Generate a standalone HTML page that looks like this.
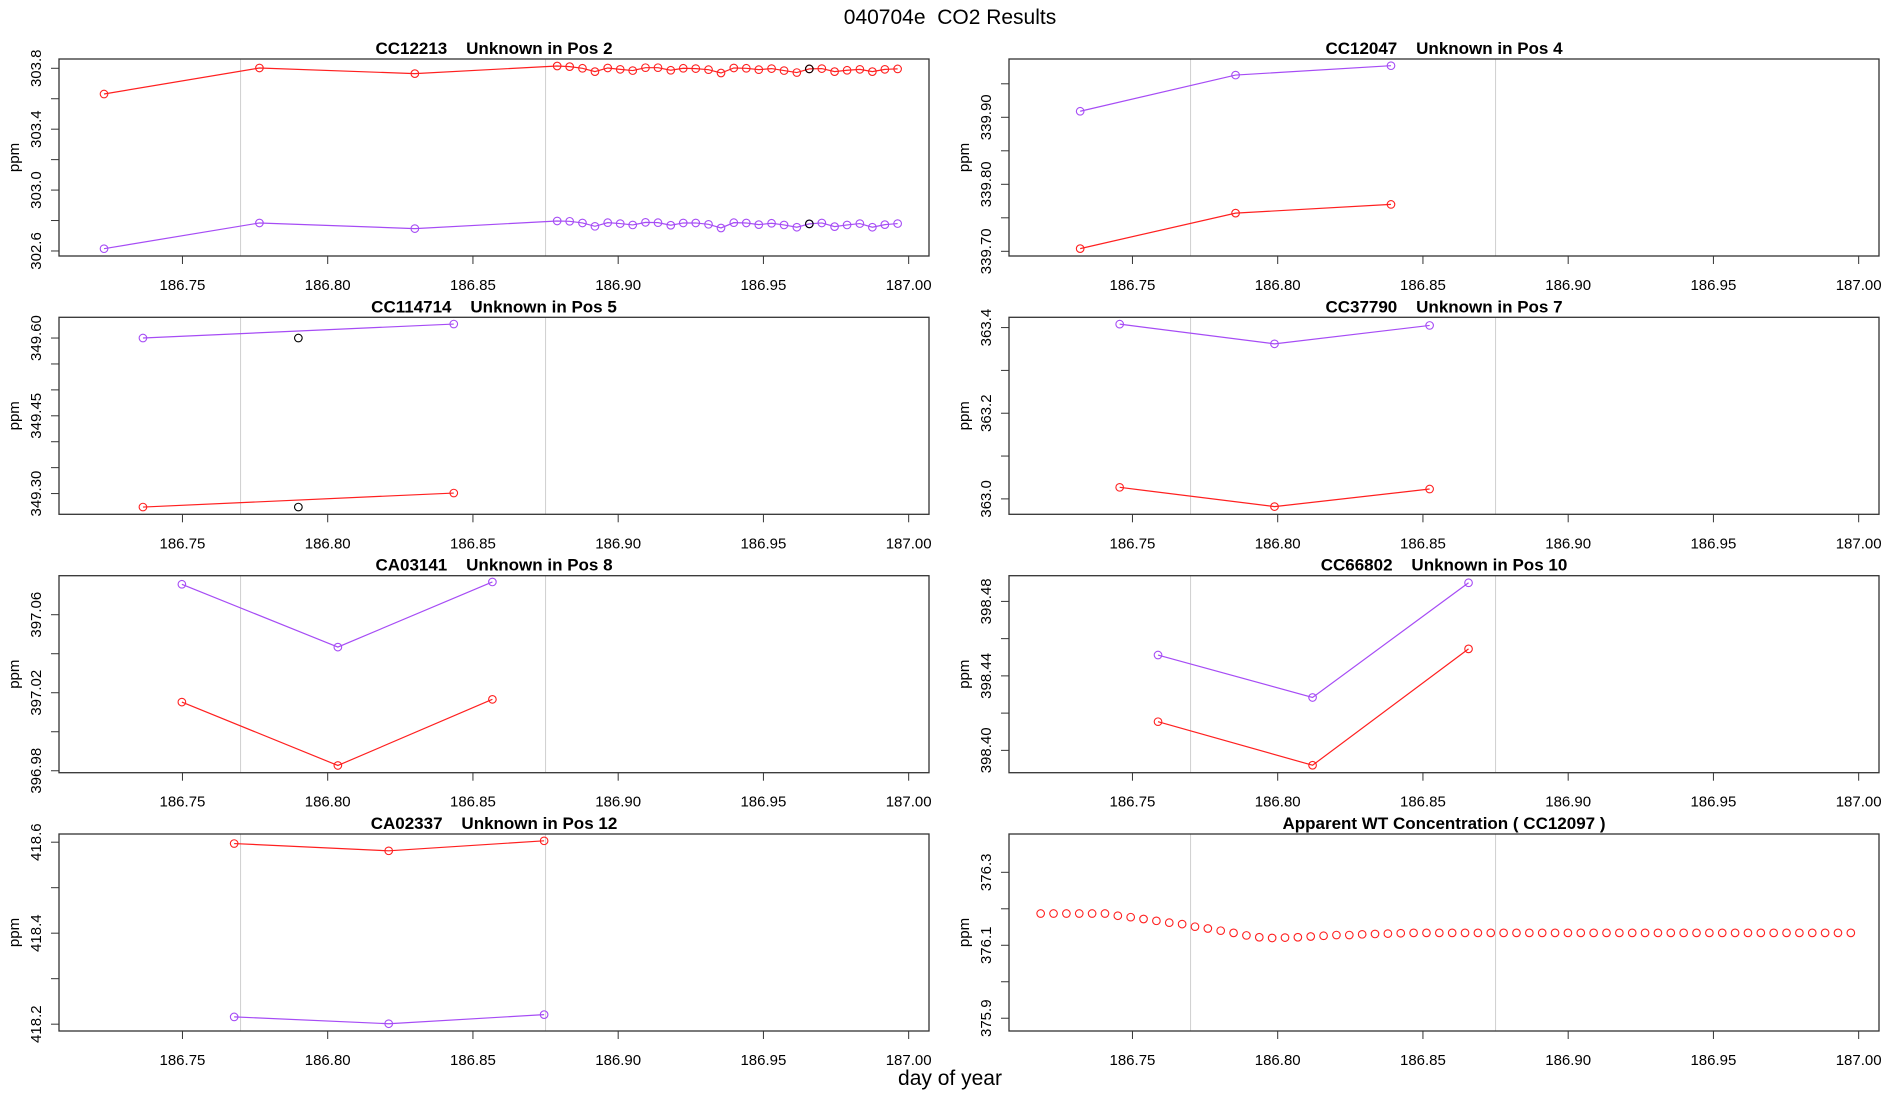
<!DOCTYPE html>
<html><head><meta charset="utf-8"><style>
body{margin:0;background:#fff;}
svg{display:block;font-family:"Liberation Sans",sans-serif;}
svg text{white-space:pre;}
</style></head><body>
<svg id="chart" width="1900" height="1100" viewBox="0 0 1900 1100" xml:space="preserve">
<text x="950" y="24" text-anchor="middle" font-size="21">040704e  CO2 Results</text>
<text x="950" y="1085" text-anchor="middle" font-size="21">day of year</text>
</svg>
<script>
// x ticks shared
const xTicks = [186.75, 186.80, 186.85, 186.90, 186.95, 187.00];
const xTickLabels = ["186.75","186.80","186.85","186.90","186.95","187.00"];
const vLines = [186.77, 186.875];

// Panel 1
const p1Title = "CC12213    Unknown in Pos 2";
const p1X = [186.723,186.7765,186.830,186.879,186.8833,186.8877,186.8920,186.8964,186.9007,186.9050,186.9094,186.9137,186.9181,186.9224,186.9267,186.9311,186.9354,186.9398,186.9441,186.9484,186.9528,186.9571,186.9615,186.9658,186.9701,186.9745,186.9788,186.9832,186.9875,186.9918,186.9962];
const p1Red = [303.631,303.802,303.765,303.815,303.811,303.800,303.778,303.802,303.793,303.785,303.804,303.804,303.787,303.800,303.798,303.791,303.769,303.802,303.800,303.791,303.798,303.785,303.772,303.796,303.798,303.778,303.787,303.793,303.778,303.793,303.796];
const p1Purple = [302.615,302.784,302.747,302.797,302.795,302.784,302.762,302.786,302.780,302.771,302.788,302.786,302.769,302.784,302.784,302.775,302.751,302.786,302.784,302.773,302.782,302.771,302.756,302.778,302.784,302.760,302.771,302.780,302.756,302.773,302.780];
const p1BlackX = [186.9658, 186.9658];
const p1BlackY = [303.796, 302.778];
const p1Ylim = [302.567, 303.861];
const p1Ticks = [302.6,302.8,303.0,303.2,303.4,303.6,303.8];
const p1Labels = ["302.6","","303.0","","303.4","","303.8"];

// Panel 2
const p2Title = "CC12047    Unknown in Pos 4";
const p2X = [186.732,186.7855,186.839];
const p2Red = [339.704,339.757,339.770];
const p2Purple = [339.909,339.963,339.977];
const p2Ylim = [339.693, 339.987];
const p2Ticks = [339.70,339.75,339.80,339.85,339.90,339.95];
const p2Labels = ["339.70","","339.80","","339.90",""];

// Panel 3
const p3Title = "CC114714    Unknown in Pos 5";
const p3X = [186.7364,186.8434];
const p3Red = [349.274,349.301];
const p3Purple = [349.600,349.627];
const p3BlackX = [186.7899,186.7899];
const p3BlackY = [349.600,349.274];
const p3Ylim = [349.260, 349.640];
const p3Ticks = [349.30,349.35,349.40,349.45,349.50,349.55,349.60];
const p3Labels = ["349.30","","","349.45","","","349.60"];

// Panel 4
const p4Title = "CC37790    Unknown in Pos 7";
const p4X = [186.7456,186.7989,186.8523];
const p4Red = [363.027,362.982,363.023];
const p4Purple = [363.408,363.362,363.405];
const p4Ylim = [362.964, 363.424];
const p4Ticks = [363.0,363.1,363.2,363.3,363.4];
const p4Labels = ["363.0","","363.2","","363.4"];

// Panel 5
const p5Title = "CA03141    Unknown in Pos 8";
const p5X = [186.7498,186.8035,186.8567];
const p5Red = [397.0152,396.9827,397.0166];
const p5Purple = [397.0756,397.0434,397.0768];
const p5Ylim = [396.979, 397.080];
const p5Ticks = [396.98,397.00,397.02,397.04,397.06];
const p5Labels = ["396.98","","397.02","","397.06"];

// Panel 6
const p6Title = "CC66802    Unknown in Pos 10";
const p6X = [186.7588,186.8120,186.8657];
const p6Red = [398.4154,398.392,398.4545];
const p6Purple = [398.4512,398.4284,398.490];
const p6Ylim = [398.388, 398.4938];
const p6Ticks = [398.40,398.42,398.44,398.46,398.48];
const p6Labels = ["398.40","","398.44","","398.48"];

// Panel 7
const p7Title = "CA02337    Unknown in Pos 12";
const p7X = [186.7678,186.821,186.8745];
const p7Red = [418.597,418.581,418.603];
const p7Purple = [418.216,418.201,418.221];
const p7Ylim = [418.185, 418.618];
const p7Ticks = [418.2,418.3,418.4,418.5,418.6];
const p7Labels = ["418.2","","418.4","","418.6"];

// Panel 8
const p8Title = "Apparent WT Concentration ( CC12097 )";
const p8Start = 186.7184;
const p8Step = 0.004427;
const p8Red = [376.187,376.187,376.187,376.187,376.187,376.187,376.181,376.177,376.172,376.167,376.162,376.158,376.151,376.146,376.140,376.134,376.127,376.122,376.120,376.121,376.122,376.124,376.126,376.128,376.128,376.130,376.131,376.132,376.133,376.134,376.134,376.134,376.134,376.134,376.134,376.134,376.134,376.134,376.134,376.134,376.134,376.134,376.134,376.134,376.134,376.134,376.134,376.134,376.134,376.134,376.134,376.134,376.134,376.134,376.134,376.134,376.134,376.134,376.134,376.134,376.134,376.134,376.134,376.134];
const p8Ylim = [375.865, 376.405];
const p8Ticks = [375.9,376.0,376.1,376.2,376.3];
const p8Labels = ["375.9","","376.1","","376.3"];

const NS = "http://www.w3.org/2000/svg";
const svg = document.getElementById('chart');
const XMIN = 186.7075, XMAX = 187.007;
const RED = "#ff2020", PURPLE = "#a64cf5";
function mk(tag, attrs, parent){
  const e = document.createElementNS(NS, tag);
  for (const k in attrs) e.setAttribute(k, attrs[k]);
  (parent||svg).appendChild(e);
  return e;
}

function panel(idx, left, top, title, ylim, ticks, labels, series, blacks){
  const W = 870, H = 197;
  const xs = v => left + (v - XMIN) / (XMAX - XMIN) * W;
  const ys = v => top + H - (v - ylim[0]) / (ylim[1] - ylim[0]) * H;
  const g = mk('g', {});
  
  
  const t = mk('text', {x: left + W/2, y: top - 5, 'text-anchor': 'middle', 'font-size': 17, 'font-weight': 'bold'}, g);
  t.textContent = title;
  
  
  vLines.forEach(v => {
    const l = mk('line', {x1: xs(v), x2: xs(v), y1: top, y2: top + H, stroke: '#d0d0d0', 'stroke-width': 1}, g);
    
    
  });
  const fr = mk('rect', {x: left, y: top, width: W, height: H, fill: 'none', stroke: '#333', 'stroke-width': 1.3}, g);
  
  
  xTicks.forEach((v, i) => {
    mk('line', {x1: xs(v), x2: xs(v), y1: top + H, y2: top + H + 8, stroke: '#333', 'stroke-width': 1}, g);
    const tl = mk('text', {x: xs(v), y: top + H + 34, 'text-anchor': 'middle', 'font-size': 15}, g);
    tl.textContent = xTickLabels[i];
    
    
  });
  ticks.forEach((v, i) => {
    const y = ys(v);
    mk('line', {x1: left - 8, x2: left, y1: y, y2: y, stroke: '#333', 'stroke-width': 1}, g);
    if (labels[i]) {
      const tl = mk('text', {x: 0, y: 0, 'text-anchor': 'middle', 'font-size': 15, transform: `translate(${left - 22},${y}) rotate(-90)`, 'dominant-baseline': 'middle'}, g);
      tl.textContent = labels[i];
      
      
    }
  });
  const yl = mk('text', {x: 0, y: 0, 'text-anchor': 'middle', 'font-size': 15, transform: `translate(${left - 44},${top + H/2}) rotate(-90)`, 'dominant-baseline': 'middle'}, g);
  yl.textContent = 'ppm';
  
  
  series.forEach(s => {
    if (s.line) {
      const pl = mk('polyline', {points: s.x.map((v, i) => xs(v) + ',' + ys(s.y[i])).join(' '), fill: 'none', stroke: s.color, 'stroke-width': 1.2}, g);
      
      
    }
    s.x.forEach((v, i) => {
      const c = mk('circle', {cx: xs(v), cy: ys(s.y[i]), r: 3.8, fill: 'none', stroke: s.color, 'stroke-width': 1.1}, g);
      
      
    });
  });
  if (blacks) {
    blacks.x.forEach((v, i) => {
      const c = mk('circle', {cx: xs(v), cy: ys(blacks.y[i]), r: 3.8, fill: 'none', stroke: '#000', 'stroke-width': 1.1}, g);
      
      
    });
  }
}

const LX = 59, RX = 1009;
const rows = [59, 317.3, 575.7, 834];
panel(1, LX, rows[0], p1Title, p1Ylim, p1Ticks, p1Labels,
  [{x: p1X, y: p1Red, color: RED, name: 'red-series', line: true}, {x: p1X, y: p1Purple, color: PURPLE, name: 'purple-series', line: true}],
  {x: p1BlackX, y: p1BlackY});
panel(2, RX, rows[0], p2Title, p2Ylim, p2Ticks, p2Labels,
  [{x: p2X, y: p2Red, color: RED, name: 'red-series', line: true}, {x: p2X, y: p2Purple, color: PURPLE, name: 'purple-series', line: true}]);
panel(3, LX, rows[1], p3Title, p3Ylim, p3Ticks, p3Labels,
  [{x: p3X, y: p3Red, color: RED, name: 'red-series', line: true}, {x: p3X, y: p3Purple, color: PURPLE, name: 'purple-series', line: true}],
  {x: p3BlackX, y: p3BlackY});
panel(4, RX, rows[1], p4Title, p4Ylim, p4Ticks, p4Labels,
  [{x: p4X, y: p4Red, color: RED, name: 'red-series', line: true}, {x: p4X, y: p4Purple, color: PURPLE, name: 'purple-series', line: true}]);
panel(5, LX, rows[2], p5Title, p5Ylim, p5Ticks, p5Labels,
  [{x: p5X, y: p5Red, color: RED, name: 'red-series', line: true}, {x: p5X, y: p5Purple, color: PURPLE, name: 'purple-series', line: true}]);
panel(6, RX, rows[2], p6Title, p6Ylim, p6Ticks, p6Labels,
  [{x: p6X, y: p6Red, color: RED, name: 'red-series', line: true}, {x: p6X, y: p6Purple, color: PURPLE, name: 'purple-series', line: true}]);
panel(7, LX, rows[3], p7Title, p7Ylim, p7Ticks, p7Labels,
  [{x: p7X, y: p7Red, color: RED, name: 'red-series', line: true}, {x: p7X, y: p7Purple, color: PURPLE, name: 'purple-series', line: true}]);
const p8X = p8Red.map((_, i) => p8Start + i * p8Step);
panel(8, RX, rows[3], p8Title, p8Ylim, p8Ticks, p8Labels,
  [{x: p8X, y: p8Red, color: RED, name: 'wt-concentration', line: false}]);
</script>
</body></html>
